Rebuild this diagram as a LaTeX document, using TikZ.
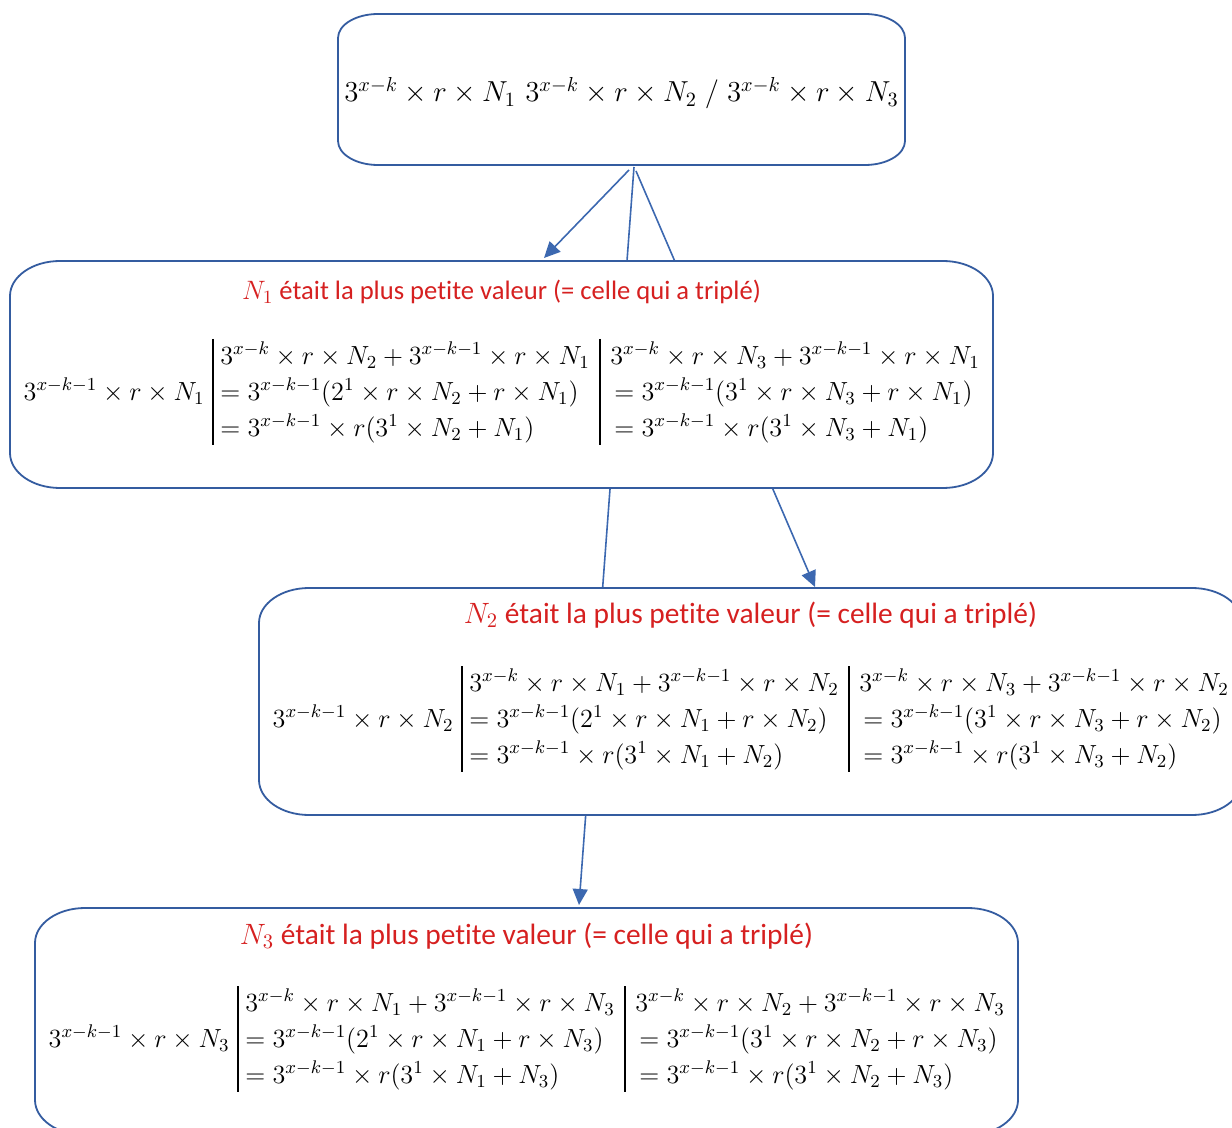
\RequirePackage{fix-cm}
\documentclass[tikz,border=0pt]{standalone}
\usepackage{fontspec}
\newfontfamily\calib[Ligatures=NoCommon]{Carlito}
\usetikzlibrary{arrows.meta,backgrounds}

\definecolor{boxblue}{RGB}{52,92,160}
\definecolor{linkblue}{RGB}{60,104,176}
\definecolor{headred}{RGB}{214,32,32}

\tikzset{
  frame/.style={inner sep=0pt, outer sep=0pt},
  boxline/.style={draw=boxblue, line width=0.9pt, fill=white},
  eq/.style={inner sep=0pt, font=\fontsize{13.1}{16}\selectfont},
  bigeq/.style={inner sep=0pt, font=\fontsize{14.45}{18}\selectfont},
  head/.style={inner sep=0pt, text=headred},
  bar/.style={line width=1.15pt},
  link/.style={draw=linkblue, line width=0.8pt, -{Triangle[length=8pt,width=7.5pt]}},
}

% Outline of a box with elliptic corners: #1 node, #2 x radius, #3 y radius
\newcommand\ovalbox[3]{%
  \path[boxline] ([xshift=#2]#1.north west) -- ([xshift=-#2]#1.north east)
    arc[start angle=90,end angle=0,x radius=#2,y radius=#3]
    -- ([yshift=#3]#1.south east)
    arc[start angle=0,end angle=-90,x radius=#2,y radius=#3]
    -- ([xshift=#2]#1.south west)
    arc[start angle=-90,end angle=-180,x radius=#2,y radius=#3]
    -- ([yshift=-#3]#1.north west)
    arc[start angle=180,end angle=90,x radius=#2,y radius=#3]
    -- cycle;}

% One case: #1 name, #2/#3 offset, #4 smallest index, #5/#6 the two other indices,
% #7 heading size, #8 heading baseline
\newcommand\casebox[8]{%
  \begin{scope}[shift={(#2,#3)}]
    \node[frame, minimum width=491.5pt, minimum height=113.5pt] (#1) at (501.5,374.5) {};
    \ovalbox{#1}{25pt}{17.5pt}
    \node[head, font=\calib\fontsize{#7}{16}\selectfont, anchor=base] (#1-head) at (501.5,#8)
      {$N_{#4}$ était la plus petite valeur (= celle qui a triplé)};
    \node[eq, anchor=base east] (#1-lhs) at (205,400.5)
      {$3^{x-k-1}\times r\times N_{#4}$};
    \draw[bar] (213,339) -- (213,445);
    \node[eq, anchor=base west] (#1-a1) at (220,364.5)
      {$3^{x-k}\times r\times N_{#5}+3^{x-k-1}\times r\times N_{#4}$};
    \node[eq, anchor=base west] (#1-a2) at (220,400.5)
      {$=3^{x-k-1}(2^1\times r\times N_{#5}+r\times N_{#4})$};
    \node[eq, anchor=base west] (#1-a3) at (220,436.5)
      {$=3^{x-k-1}\times r(3^1\times N_{#5}+N_{#4})$};
    \draw[bar] (600,339) -- (600,445);
    \node[eq, anchor=base west] (#1-b1) at (610,364.5)
      {$3^{x-k}\times r\times N_{#6}+3^{x-k-1}\times r\times N_{#4}$};
    \node[eq, anchor=base west] (#1-b2) at (614,400.5)
      {$=3^{x-k-1}(3^1\times r\times N_{#6}+r\times N_{#4})$};
    \node[eq, anchor=base west] (#1-b3) at (614,436.5)
      {$=3^{x-k-1}\times r(3^1\times N_{#6}+N_{#4})$};
  \end{scope}}

\begin{document}
\begin{tikzpicture}[x=0.5pt,y=-0.5pt]
  \useasboundingbox (0,0) rectangle (1232,1128);
  \clip (0,0) rectangle (1232,1128);

  % starting expression
  \node[frame, minimum width=283.5pt, minimum height=75.5pt] (top) at (621.5,89.5) {};
  \ovalbox{top}{20pt}{12pt}
  \node[bigeq, anchor=base] (top-eq) at (621.5,102)
    {$3^{x-k}\times r\times N_1\ 3^{x-k}\times r\times N_2\;/\;3^{x-k}\times r\times N_3$};

  % the three cases
  \casebox{c1}{0}{0}{1}{2}{3}{13.3}{300}
  \casebox{c2}{249}{327}{2}{1}{3}{14.7}{296}
  \casebox{c3}{25}{647}{3}{1}{2}{14.7}{297}

  % connector ends
  \coordinate (oA) at (629,170);
  \coordinate (tA) at (544,258);
  \coordinate (oB) at (636,171);
  \coordinate (tB) at (815,587);
  \coordinate (oC) at (634,167);
  \coordinate (tC) at (579,905);

  \begin{scope}[on background layer]
    \draw[link] (oA) -- (tA);
    \draw[link] (oB) -- (tB);
    \draw[link] (oC) -- (tC);
  \end{scope}
\end{tikzpicture}
\end{document}
